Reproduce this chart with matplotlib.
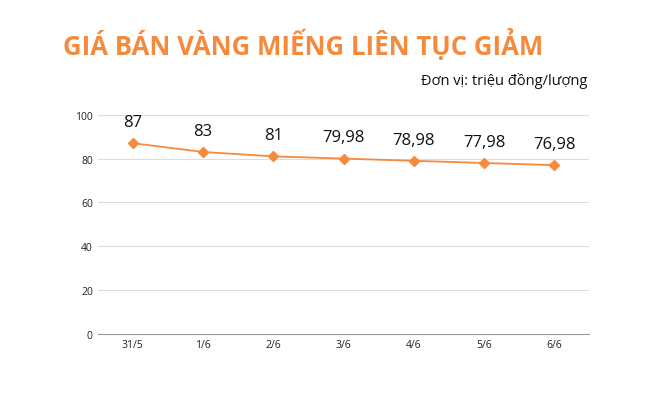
import matplotlib
matplotlib.use("Agg")
import matplotlib.pyplot as plt

dates = ["31/5", "1/6", "2/6", "3/6", "4/6", "5/6", "6/6"]
prices = [87, 83, 81, 79.98, 78.98, 77.98, 76.98]
labels = ["87", "83", "81", "79,98", "78,98", "77,98", "76,98"]
yticks = [0, 20, 40, 60, 80, 100]

plt.rcParams['font.family'] = ['Open Sans', 'DejaVu Sans']
fig = plt.figure(figsize=(6.6, 4.06), dpi=100)
ax = fig.add_axes([0.148, 0.175, 0.745, 0.54])
x = range(len(dates))
ax.plot(x, prices, color='#f58a3c', marker='D', markersize=5, linewidth=1.3)
for i, (p, l) in enumerate(zip(prices, labels)):
    ax.text(i, p + 6, l, ha='center', va='bottom', fontsize=12, color='#111111')
ax.set_ylim(0, 100)
ax.set_xlim(-0.5, len(dates) - 0.5)
ax.set_yticks(yticks)
ax.set_xticks(list(x))
ax.set_xticklabels(dates)
ax.tick_params(length=0, labelsize=7.5, colors='#222222')
ax.grid(axis='y', color='#dddddd', linewidth=0.8)
ax.set_axisbelow(True)
for s in ['top', 'right', 'left']:
    ax.spines[s].set_visible(False)
ax.spines['bottom'].set_color('#999999')
fig.text(0.095, 0.865, "GIÁ BÁN VÀNG MIẾNG LIÊN TỤC GIẢM", fontsize=18.5,
         fontweight='bold', color='#f58a3c')
fig.text(0.89, 0.79, "Đơn vị: triệu đồng/lượng", fontsize=10.5, ha='right', color='#111111')
fig.savefig("out.png", dpi=100, facecolor='white')
